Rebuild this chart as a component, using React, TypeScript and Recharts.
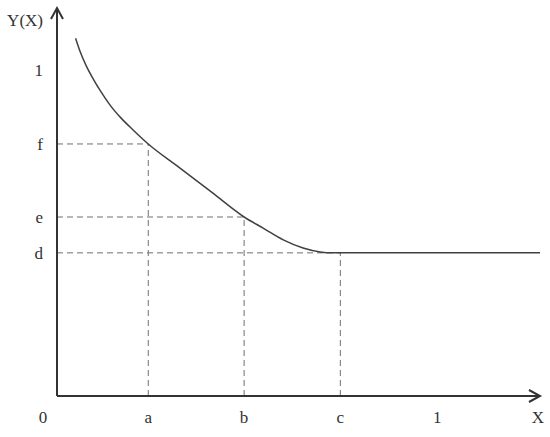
import { LineChart, Line, XAxis, YAxis, ReferenceLine, ReferenceDot } from 'recharts';

// x positions of the marked points (a, b, c) and the end of the X axis
const xA = 0.24;
const xB = 0.492;
const xC = 0.745;
const xMax = 1.27;
// y levels of the marked points (d, e, f) and the top of the Y axis
const yD = 0.439;
const yE = 0.549;
const yF = 0.773;
const yMax = 1.19;

const xTickValues = [0, xA, xB, xC, 1, xMax];
const xTickLabels = ['0', 'a', 'b', 'c', '1', 'X'];
const yTickValues = [yD, yE, yF, 1, yMax];
const yTickLabels = ['d', 'e', 'f', '1', 'Y(X)'];

const curveX = [0.049, 0.061, 0.076, 0.094, 0.115, 0.139, 0.168, 0.2, xA, 0.32, 0.41, xB, 0.542, 0.595, 0.647, 0.692, 0.72, 0.9, 1.1, xMax];
const curveY = [1.097, 1.056, 1.015, 0.975, 0.934, 0.893, 0.853, 0.816, yF, 0.702, 0.622, yE, 0.515, 0.479, 0.454, 0.442, yD, yD, yD, yD];

const data = curveX.map((x, i) => ({ x, y: curveY[i] }));

const FONT = '"Liberation Serif", serif';
const AXIS = '#333';
const DASH = '#707070';

function XTick(props: any) {
  const { x, y, payload } = props;
  const i = xTickValues.indexOf(payload.value);
  const label = xTickLabels[i] ?? '';
  const dx = label === '0' ? -14 : label === 'X' ? -2 : 0;
  return (
    <text x={x + dx} y={y} dy="0.71em" textAnchor="middle" fontFamily={FONT} fontSize={17} fill={AXIS}>
      {label}
    </text>
  );
}

function YTick(props: any) {
  const { x, y, payload } = props;
  const i = yTickValues.indexOf(payload.value);
  const label = yTickLabels[i] ?? '';
  const dy = label === 'Y(X)' ? 12 : 0;
  return (
    <text x={x} y={y + dy} dy="0.35em" textAnchor="end" fontFamily={FONT} fontSize={17} fill={AXIS}>
      {label}
    </text>
  );
}

export default function App() {
  return (
    <div style={{ position: 'absolute', left: 0, top: 0, background: '#fff' }}>
      <LineChart width={550} height={437} data={data} margin={{ top: 8, right: 10, bottom: 0, left: 0 }}>
        <XAxis
          dataKey="x"
          type="number"
          domain={[0, xMax]}
          ticks={xTickValues}
          tick={<XTick />}
          tickLine={false}
          tickSize={0}
          tickMargin={15}
          height={41}
          axisLine={{ stroke: AXIS, strokeWidth: 2 }}
          interval={0}
        />
        <YAxis
          type="number"
          domain={[0, yMax]}
          ticks={yTickValues}
          tick={<YTick />}
          tickLine={false}
          tickSize={0}
          tickMargin={14}
          width={57}
          axisLine={{ stroke: AXIS, strokeWidth: 2 }}
          interval={0}
        />
        <ReferenceLine segment={[{ x: 0, y: yF }, { x: xA, y: yF }]} stroke={DASH} strokeDasharray="6 4" />
        <ReferenceLine segment={[{ x: 0, y: yE }, { x: xB, y: yE }]} stroke={DASH} strokeDasharray="6 4" />
        <ReferenceLine segment={[{ x: 0, y: yD }, { x: xC, y: yD }]} stroke={DASH} strokeDasharray="6 4" />
        <ReferenceLine segment={[{ x: xA, y: 0 }, { x: xA, y: yF }]} stroke={DASH} strokeDasharray="6 4" />
        <ReferenceLine segment={[{ x: xB, y: 0 }, { x: xB, y: yE }]} stroke={DASH} strokeDasharray="6 4" />
        <ReferenceLine segment={[{ x: xC, y: 0 }, { x: xC, y: yD }]} stroke={DASH} strokeDasharray="6 4" />
        <Line
          dataKey="y"
          type="monotone"
          stroke="#404040"
          strokeWidth={1.5}
          dot={false}
          activeDot={false}
          isAnimationActive={false}
        />
        <ReferenceDot
          x={0}
          y={yMax}
          r={0}
          shape={(p: any) => (
            <path d={`M${p.cx - 6},${p.cy + 11} L${p.cx},${p.cy} L${p.cx + 6},${p.cy + 11}`} fill="none" stroke={AXIS} strokeWidth={2} />
          )}
        />
        <ReferenceDot
          x={xMax}
          y={0}
          r={0}
          shape={(p: any) => (
            <path d={`M${p.cx - 11},${p.cy - 6} L${p.cx},${p.cy} L${p.cx - 11},${p.cy + 6}`} fill="none" stroke={AXIS} strokeWidth={2} />
          )}
        />
      </LineChart>
    </div>
  );
}
